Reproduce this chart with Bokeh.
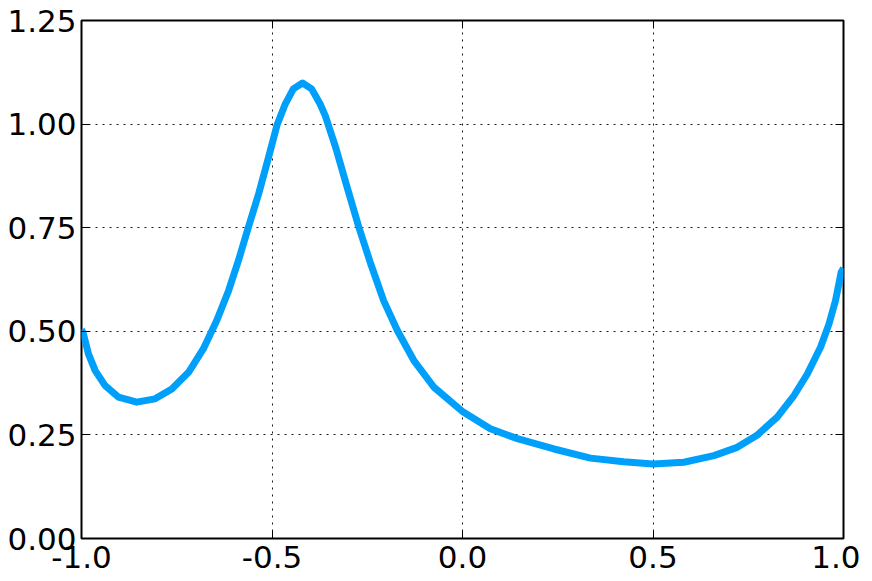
from bokeh.plotting import figure
from bokeh.models import Range1d, FixedTicker, LinearAxis
from bokeh.embed import file_html
from bokeh.resources import INLINE

xs = [-1.0, -0.995, -0.982, -0.964, -0.938, -0.903, -0.855, -0.807, -0.763, -0.719,
      -0.680, -0.645, -0.614, -0.588, -0.562, -0.535, -0.509, -0.487, -0.465, -0.444,
      -0.420, -0.396, -0.374, -0.360, -0.333, -0.303, -0.272, -0.241, -0.207, -0.171,
      -0.128, -0.075, 0.002, 0.073, 0.144, 0.240, 0.336, 0.423, 0.500, 0.581,
      0.660, 0.721, 0.773, 0.826, 0.870, 0.905, 0.940, 0.962, 0.979, 0.994, 1.0]
ys = [0.505, 0.494, 0.446, 0.405, 0.369, 0.341, 0.329, 0.337, 0.361, 0.401,
      0.458, 0.526, 0.598, 0.671, 0.751, 0.832, 0.920, 0.997, 1.049, 1.085,
      1.099, 1.085, 1.049, 1.020, 0.944, 0.848, 0.751, 0.663, 0.574, 0.502,
      0.430, 0.365, 0.305, 0.265, 0.241, 0.216, 0.194, 0.185, 0.180, 0.184,
      0.200, 0.220, 0.249, 0.293, 0.345, 0.397, 0.462, 0.518, 0.574, 0.643, 0.652]

x_ticks = [-1.0, -0.5, 0.0, 0.5, 1.0]
x_tick_labels = ["-1.0", "-0.5", "0.0", "0.5", "1.0"]
y_ticks = [0.0, 0.25, 0.5, 0.75, 1.0, 1.25]
y_tick_labels = ["0.00", "0.25", "0.50", "0.75", "1.00", "1.25"]

p = figure(width=860, height=580, output_backend="svg", toolbar_location=None,
           x_range=Range1d(-1, 1), y_range=Range1d(0, 1.25),
           min_border_left=81, min_border_top=20, min_border_right=17, min_border_bottom=42)

p.outline_line_color = "black"
p.outline_line_width = 2
p.outline_line_alpha = 1

p.line(xs, ys, line_color="#00a0fa", line_width=7, line_join="round")

FONT = "DejaVu Sans"
SIZE = "31px"

for ax in (p.xaxis[0], p.yaxis[0]):
    ax.major_label_text_font = FONT
    ax.major_label_text_font_size = SIZE
    ax.major_label_text_color = "black"
    ax.axis_line_color = None
    ax.major_tick_in = 8
    ax.major_tick_out = 0
    ax.major_tick_line_color = "black"
    ax.major_tick_line_width = 1
    ax.minor_tick_line_color = None

p.xaxis[0].ticker = FixedTicker(ticks=x_ticks)
p.xaxis[0].major_label_overrides = dict(zip(x_ticks, x_tick_labels))
p.xaxis[0].major_label_standoff = 7
p.yaxis[0].ticker = FixedTicker(ticks=y_ticks)
p.yaxis[0].major_label_overrides = dict(zip(y_ticks, y_tick_labels))
p.yaxis[0].major_label_standoff = 5

for loc, ticks in (("right", y_ticks), ("above", x_ticks)):
    a = LinearAxis(ticker=FixedTicker(ticks=ticks))
    a.major_label_text_font_size = "0px"
    a.major_label_text_color = None
    a.major_label_standoff = 0
    a.axis_line_color = None
    a.major_tick_in = 8
    a.major_tick_out = 0
    a.major_tick_line_color = "black"
    a.minor_tick_line_color = None
    p.add_layout(a, loc)

for g, ticks in ((p.xgrid[0], x_ticks), (p.ygrid[0], y_ticks)):
    g.ticker = FixedTicker(ticks=ticks)
    g.grid_line_color = "black"
    g.grid_line_width = 1
    g.grid_line_dash = "2 5"
    g.grid_line_alpha = 0.9

open("out.html", "w").write(file_html(p, INLINE))
